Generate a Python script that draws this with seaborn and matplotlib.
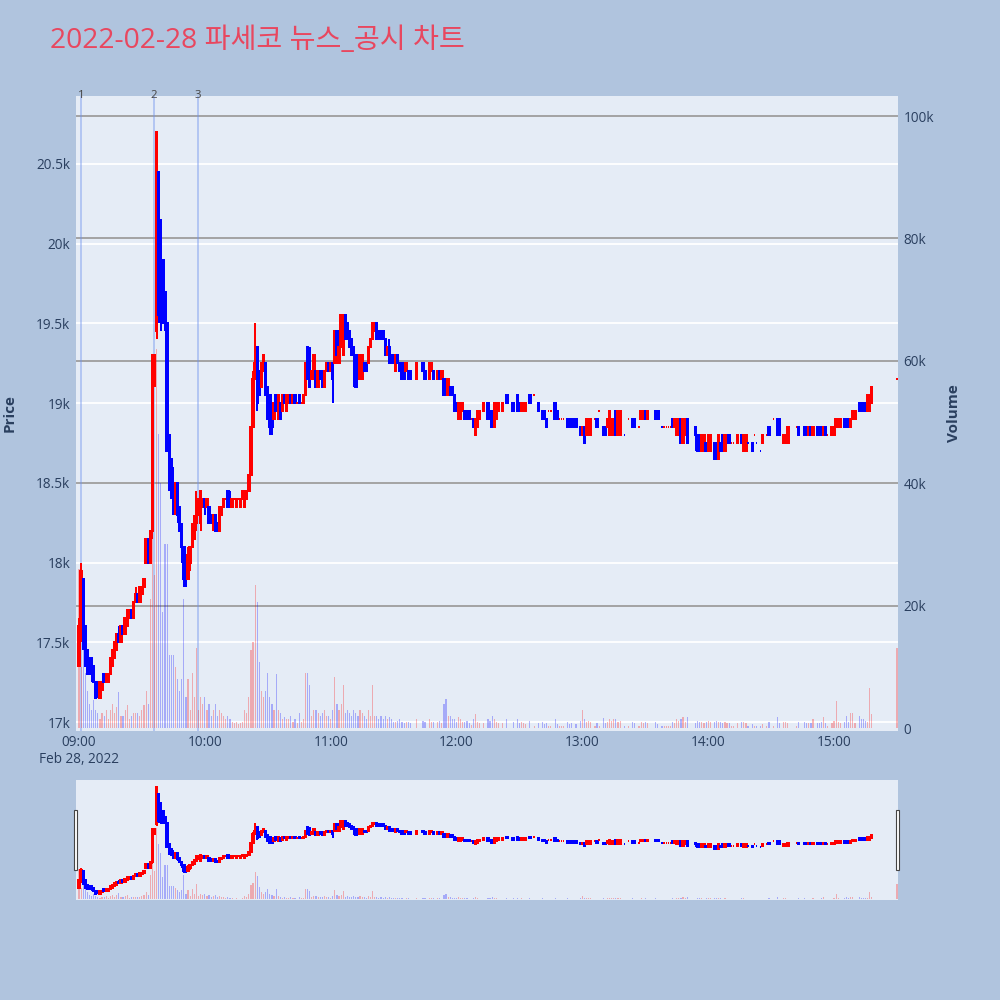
import numpy as np
import pandas as pd
import matplotlib
matplotlib.use("Agg")
import matplotlib.pyplot as plt
import matplotlib.transforms as mtransforms
from matplotlib.patches import Rectangle
import seaborn as sns

sns.set_theme(style="white")
plt.rcParams['font.family'] = ['Open Sans', 'Noto Sans CJK KR', 'DejaVu Sans']

# ---------------- data ----------------
title_text = "2022-02-28 파세코 뉴스_공시 차트"
session_start = "2022-02-28 09:00"

N = None
opens = [
    17350,17600,17900,17600,17450,17400,17400,17350,17250,17250,
    17150,17200,17300,17250,17250,17300,17350,17400,17450,17550,
    17500,17600,17550,17600,17650,17700,17650,17750,17800,17750,
    17800,17850,18000,18150,18000,18200,19150,19450,20450,20150,
    19900,19700,19500,18800,18650,18500,18350,18500,18350,18200,
    18100,18000,17900,18000,18100,18150,18250,18300,18250,18350,
    18400,18350,18350,18300,18250,18300,18250,18200,18300,18350,
    18400,18450,18400,18350,18400,18350,18400,18350,18400,18350,
    18400,18450,18550,18850,19150,19350,19200,19100,19200,19250,
    19100,19050,18900,18900,19050,18900,19000,18950,19050,18950,
    19000,19050,19000,19050,19000,19050,19000,19000,19050,19350,
    19250,19150,19150,19200,19100,19200,19200,19100,19200,19250,
    19200,19250,19250,19450,19250,19350,19300,19550,19500,19450,
    19400,19350,19300,19250,19150,19150,19250,19250,19250,19350,
    19400,19450,19500,19450,19450,19450,19400,19300,19350,19300,
    19300,19200,19300,19250,19250,19200,19200,19200,19200,N,
    N,19150,N,N,19250,19200,N,19150,19200,19200,
    N,19150,19200,19150,19150,19100,19050,19100,19100,19050,
    19000,18900,18900,18950,18950,18950,18950,18900,18900,18800,
    18850,18900,N,18950,N,19000,18950,18950,18850,18900,
    18950,N,18950,N,19050,N,N,19000,N,19050,
    19000,18950,18950,18950,N,19050,N,19050,N,19000,
    N,18950,18950,18900,18950,18950,N,19000,18950,18900,
    18900,18900,N,18900,18900,18900,N,18900,N,18850,
    18800,18850,18800,18800,18800,N,18900,18900,18950,N,
    18850,18850,18850,18800,18800,18800,18950,18800,18800,N,
    18800,N,18900,N,18900,18900,N,18850,18900,18900,
    18950,18900,N,N,N,18950,18950,N,18850,18850,
    18850,18850,18850,18900,18850,18800,18800,18900,18750,18800,
    18900,N,N,N,18850,18800,18800,18700,18700,18750,
    18700,18700,N,18750,18750,18650,18750,18800,18700,18750,
    18800,18750,18750,N,18750,N,18800,18700,18700,18750,
    N,18750,18800,18750,N,18700,18750,N,18800,18850,
    N,18900,N,18900,18900,N,18750,18750,18750,N,
    N,N,18850,18850,N,N,18850,18850,18800,18850,
    18800,N,18850,18850,18850,18800,18850,18800,N,18800,
    18800,18850,18850,18850,N,18900,18900,18900,18850,18900,
    18900,N,19000,19000,19000,19000,18950,18950,19000,N,
    N,N,N,N,N,N,N,N,N,N,
    19150,
]
closes = [
    17600,17950,17500,17350,17300,17300,17300,17250,17150,17200,
    17250,17250,17250,17300,17300,17400,17450,17500,17550,17500,
    17600,17550,17650,17700,17700,17650,17750,17800,17750,17850,
    17850,17900,18150,18000,18200,19300,19300,20700,19550,19700,
    19500,19500,18700,18550,18450,18350,18500,18300,18200,18100,
    17900,17900,18050,18100,18200,18250,18400,18400,18450,18400,
    18350,18400,18250,18250,18300,18200,18200,18350,18350,18400,
    18400,18350,18350,18400,18400,18400,18400,18400,18450,18450,
    18450,18550,18850,19150,19250,19000,19050,19250,19300,19050,
    18900,18850,18850,19000,18950,19050,18900,19050,19000,19050,
    19050,19000,19050,19000,19000,19000,19000,19050,19250,19150,
    19100,19200,19300,19100,19200,19150,19100,19200,19250,19200,
    19250,19150,19450,19300,19350,19550,19550,19400,19400,19350,
    19300,19300,19100,19150,19300,19300,19200,19200,19350,19400,
    19500,19500,19400,19400,19400,19400,19300,19350,19250,19250,
    19250,19300,19250,19200,19150,19150,19250,19150,19150,N,
    N,19250,N,N,19200,19150,N,19250,19250,19150,
    N,19200,19150,19200,19050,19050,19150,19050,19050,18950,
    18950,19000,19000,19000,18900,18900,18900,18900,18850,18900,
    18950,18950,N,19000,N,18900,18900,18850,19000,19000,
    19000,N,19000,N,19000,N,N,18950,N,18950,
    18950,19000,19000,19000,N,19000,N,19050,N,18950,
    N,18900,18900,18850,18950,18950,N,18900,18900,18900,
    18900,18900,N,18850,18850,18850,N,18850,N,18800,
    18850,18750,18900,18900,18900,N,18900,18850,18950,N,
    18800,18800,18900,18950,18900,18900,18800,18950,18950,N,
    18800,N,18900,N,18850,18850,N,18850,18950,18950,
    18900,18950,N,N,N,18900,18900,N,18850,18850,
    18850,18850,18850,18850,18900,18900,18900,18750,18900,18900,
    18750,N,N,N,18800,18700,18700,18800,18800,18700,
    18800,18800,N,18650,18650,18800,18700,18700,18800,18800,
    18750,18750,18750,N,18800,N,18750,18800,18800,18750,
    N,18700,18800,18750,N,18700,18800,N,18800,18800,
    N,18900,N,18800,18800,N,18800,18800,18850,N,
    N,N,18850,18800,N,N,18800,18800,18850,18800,
    18850,N,18800,18800,18800,18850,18800,18800,N,18850,
    18850,18900,18900,18900,N,18850,18850,18850,18900,18950,
    18950,N,18950,18950,18950,18950,19050,19050,19100,N,
    N,N,N,N,N,N,N,N,N,N,
    19150,
]
highs = [
    17650,18000,17900,17600,17450,17400,17400,17350,17250,17250,
    17250,17250,17300,17300,17300,17400,17450,17500,17550,17600,
    17600,17600,17650,17700,17700,17700,17750,17850,17800,17850,
    17850,17900,18150,18150,18200,19300,19300,20700,20450,20150,
    19900,19700,19500,18800,18650,18600,18500,18500,18350,18250,
    18100,18000,18100,18100,18250,18300,18450,18400,18450,18400,
    18400,18400,18350,18300,18300,18300,18250,18350,18350,18400,
    18400,18450,18450,18400,18400,18400,18400,18400,18450,18450,
    18450,18550,18850,19200,19500,19350,19200,19250,19300,19250,
    19100,19050,18900,19000,19050,19050,19000,19050,19050,19050,
    19050,19050,19050,19050,19000,19050,19000,19050,19250,19350,
    19350,19200,19300,19200,19200,19200,19200,19200,19250,19250,
    19250,19250,19450,19450,19350,19550,19550,19550,19500,19450,
    19400,19350,19300,19250,19300,19300,19250,19250,19350,19400,
    19500,19500,19500,19450,19450,19450,19400,19350,19400,19300,
    19300,19300,19300,19250,19250,19200,19250,19200,19200,N,
    N,19250,N,N,19250,19200,N,19250,19250,19200,
    N,19200,19200,19200,19150,19100,19150,19100,19100,19050,
    19000,19000,19000,19000,18950,18950,18950,18900,18900,18900,
    18950,18950,N,19000,N,19000,18950,18950,19000,19000,
    19000,N,19000,N,19050,N,N,19000,N,19050,
    19000,19000,19000,19000,N,19050,N,19050,N,19000,
    N,18950,18950,18900,18950,18950,N,19000,18950,18900,
    18900,18900,N,18900,18900,18900,N,18900,N,18850,
    18850,18850,18900,18900,18900,N,18900,18900,18950,N,
    18850,18850,18900,18950,18900,18900,18950,18950,18950,N,
    18800,N,18900,N,18900,18900,N,18850,18950,18950,
    18950,18950,N,N,N,18950,18950,N,18850,18850,
    18850,18850,18850,18900,18900,18900,18900,18900,18900,18900,
    18900,N,N,N,18850,18800,18800,18800,18800,18750,
    18800,18800,N,18750,18750,18800,18750,18800,18800,18800,
    18800,18750,18750,N,18800,N,18800,18800,18800,18750,
    N,18750,18800,18750,N,18700,18800,N,18800,18850,
    N,18900,N,18900,18900,N,18800,18800,18850,N,
    N,N,18850,18850,N,N,18850,18850,18850,18850,
    18850,N,18850,18850,18850,18850,18850,18800,N,18850,
    18850,18900,18900,18900,N,18900,18900,18900,18900,18950,
    18950,N,19000,19000,19000,19000,19050,19050,19100,N,
    N,N,N,N,N,N,N,N,N,N,
    19150,
]
lows = [
    17350,17500,17450,17350,17300,17300,17250,17250,17150,17150,
    17150,17200,17250,17250,17250,17300,17350,17400,17450,17500,
    17500,17550,17550,17600,17650,17650,17650,17750,17750,17750,
    17800,17850,18000,18000,18000,18150,19100,19400,19500,19450,
    19500,19450,18700,18450,18400,18300,18300,18250,18200,18000,
    17850,17850,17900,17950,18100,18150,18200,18300,18200,18350,
    18300,18350,18250,18250,18200,18200,18200,18200,18300,18350,
    18400,18350,18350,18350,18400,18350,18400,18350,18400,18350,
    18400,18450,18550,18850,19150,18950,19050,19100,19200,19050,
    18900,18800,18800,18900,18950,18900,18900,18950,19000,18950,
    19000,19000,19000,19000,19000,19000,19000,19000,19050,19150,
    19100,19150,19150,19100,19100,19150,19100,19100,19200,19200,
    19200,19000,19250,19300,19250,19350,19300,19400,19400,19350,
    19300,19100,19100,19150,19150,19150,19200,19200,19250,19350,
    19400,19450,19400,19400,19400,19400,19300,19300,19250,19250,
    19250,19200,19250,19200,19150,19150,19200,19150,19150,N,
    N,19150,N,N,19200,19150,N,19150,19200,19150,
    N,19150,19150,19150,19050,19050,19050,19050,19050,18950,
    18950,18900,18900,18950,18900,18900,18900,18900,18850,18800,
    18850,18900,N,18950,N,18900,18900,18850,18850,18900,
    18950,N,18950,N,19000,N,N,18950,N,18950,
    18950,18950,18950,18950,N,19000,N,19050,N,18950,
    N,18900,18900,18850,18950,18950,N,18900,18900,18900,
    18900,18900,N,18850,18850,18850,N,18850,N,18800,
    18800,18750,18800,18800,18800,N,18900,18850,18950,N,
    18800,18800,18850,18800,18800,18800,18800,18800,18800,N,
    18800,N,18900,N,18850,18850,N,18850,18900,18900,
    18900,18900,N,N,N,18900,18900,N,18850,18850,
    18850,18850,18850,18850,18850,18800,18800,18750,18750,18800,
    18750,N,N,N,18700,18700,18700,18700,18700,18700,
    18700,18700,N,18650,18650,18650,18700,18700,18700,18750,
    18750,18750,18750,N,18750,N,18750,18700,18700,18750,
    N,18700,18800,18750,N,18700,18750,N,18800,18800,
    N,18900,N,18800,18800,N,18750,18750,18750,N,
    N,N,18850,18800,N,N,18800,18800,18800,18800,
    18800,N,18800,18800,18800,18800,18800,18800,N,18800,
    18800,18850,18850,18850,N,18850,18850,18850,18850,18900,
    18900,N,18950,18950,18950,18950,18950,18950,19000,N,
    N,N,N,N,N,N,N,N,N,N,
    19150,
]
volumes = [
    26000,10000,14000,9000,6000,4000,3000,4500,3000,2500,
    1500,2500,2000,3000,1500,3000,4000,2500,3500,5900,
    2000,2000,3000,3800,1500,2000,2500,2400,2400,2000,
    3000,3800,6000,4000,21000,33000,25000,62000,48000,40000,
    19000,30000,30000,12000,12000,12000,10000,8000,6000,8000,
    21000,5000,8000,3000,9000,5000,13000,3000,5000,4000,
    5000,3000,4000,2000,3000,4000,2000,3000,2500,2000,
    1500,2000,1500,1000,800,900,700,800,1000,3000,
    2500,5000,12800,14000,23400,20600,10800,6000,5000,6000,
    9000,5000,4000,3000,8800,3000,2500,1500,1800,1500,
    1500,2000,1000,1500,800,2500,1000,1500,9000,9000,
    7000,2000,3000,3000,2500,2000,2500,3000,2000,2000,
    1500,3000,8300,4000,3000,4000,7000,2500,3000,2500,
    2000,3000,2500,2000,3000,2500,2000,1500,3000,2000,
    7000,2000,2000,1500,2000,1500,2000,1500,1800,1500,
    1000,1000,1200,1500,1000,800,1000,1000,800,N,
    N,1500,N,N,1200,1000,N,1500,1000,1000,
    N,1000,1200,800,4000,4700,2000,2000,1500,1500,
    1000,1800,1500,1000,1000,1200,800,500,1500,2300,
    1000,800,N,800,N,1500,1200,2000,1500,1000,
    800,N,800,N,1500,N,N,1000,N,1500,
    800,1000,800,600,N,1200,N,300,N,800,
    N,1000,600,800,300,300,N,1500,600,300,
    300,300,N,1000,600,800,N,600,N,1200,
    2900,1500,1000,1200,1000,N,300,800,300,N,
    1600,800,1000,1500,1200,1500,1500,1000,1200,N,
    300,N,300,N,1000,800,N,300,1000,800,
    1000,800,N,N,N,1000,600,N,300,300,
    300,300,300,1000,800,1500,1200,1500,1800,1000,
    1800,N,N,N,800,1200,1000,1000,800,1000,
    1200,1000,N,1000,1200,1000,1000,800,1000,800,
    800,300,300,N,800,N,1000,1000,800,300,
    N,600,300,300,N,300,600,N,300,1000,
    N,300,N,1800,800,N,1000,1000,800,N,
    N,N,300,1000,N,N,1000,800,800,800,
    1500,N,800,800,1000,1800,800,300,N,800,
    1200,4400,1000,800,N,1000,2000,1000,2500,2500,
    800,N,2000,1500,1500,1200,1000,6500,2300,N,
    N,N,N,N,N,N,N,N,N,N,
    13000,
]

event_times = ["2022-02-28 09:01:00", "2022-02-28 09:35:40", "2022-02-28 09:56:40"]
event_labels = ["1", "2", "3"]

price_ticks = [17000, 17500, 18000, 18500, 19000, 19500, 20000, 20500]
price_tick_labels = ["17k", "17.5k", "18k", "18.5k", "19k", "19.5k", "20k", "20.5k"]
vol_ticks = [0, 20000, 40000, 60000, 80000, 100000]
vol_tick_labels = ["0", "20k", "40k", "60k", "80k", "100k"]
time_ticks = ["09:00", "10:00", "11:00", "12:00", "13:00", "14:00", "15:00"]

# ---------------- frame ----------------
t0 = pd.Timestamp(session_start)
df = pd.DataFrame({"open": opens, "close": closes, "high": highs,
                   "low": lows, "volume": volumes}, dtype=float)
df["minute"] = np.arange(len(df))
df = df.dropna().reset_index(drop=True)
prev_close = df["close"].shift(1).fillna(df["open"])
df["up"] = (df["close"] > df["open"]) | ((df["close"] == df["open"]) & (df["close"] >= prev_close))

RED = "#ff0000"
BLUE = "#0000ff"
df["color"] = np.where(df["up"], RED, BLUE)

def to_min(ts):
    return (pd.Timestamp(ts) - t0).total_seconds() / 60.0

ev_x = [to_min(t) for t in event_times]
tick_x = [to_min("2022-02-28 " + t) for t in time_ticks]
tick_lbl = [time_ticks[0] + "\nFeb 28, 2022"] + time_ticks[1:]

XLIM = (-1.43, 390.5)
PLIM = (16944, 20926)
VLIM = (-490, 103268)

BG_FIG = "#b0c4de"
BG_PLOT = "#e5ecf6"
TXT = "#2a3f5f"
TICK_FS = 9.8

fig = plt.figure(figsize=(10, 10), dpi=100, facecolor=BG_FIG)

def draw_panel(rect, main=True):
    axv = fig.add_axes(rect, zorder=1)
    axp = fig.add_axes(rect, zorder=2, sharex=axv)
    axv.set_facecolor(BG_PLOT)
    axp.set_facecolor("none")
    for a in (axv, axp):
        for s in a.spines.values():
            s.set_visible(False)
        a.set_xlim(*XLIM)
        a.tick_params(length=0)
    axp.set_ylim(*PLIM)
    axv.set_ylim(*VLIM)
    if main:
        tr = mtransforms.blended_transform_factory(axv.transAxes, axp.transData)
        for p in price_ticks:
            axv.plot([0, 1], [p, p], transform=tr, color="white", lw=1.3, zorder=0.5)
        for v in vol_ticks[1:]:
            axv.axhline(v, color="#a3a3a3", lw=1.4, zorder=0.6)
        for x in ev_x:
            axv.axvline(x, color="#6f93ee", alpha=0.55, lw=1.1, zorder=0.7)
    sns.despine(ax=axv, left=True, bottom=True)
    axv.bar(df["minute"], df["volume"], width=0.55, color=df["color"],
            alpha=0.28, linewidth=0, zorder=1)
    body_lo = np.minimum(df["open"], df["close"])
    body_h = (df["close"] - df["open"]).abs()
    axp.vlines(df["minute"], df["low"], df["high"], colors=df["color"],
               linewidth=1.44, zorder=2)
    axp.bar(df["minute"], body_h, bottom=body_lo, width=0.65, color=df["color"],
            edgecolor=df["color"], linewidth=1.44, zorder=3)
    return axp, axv

# main panel
axp, axv = draw_panel([0.076, 0.269, 0.822, 0.635], main=True)
axp.set_yticks(price_ticks)
axp.set_yticklabels(price_tick_labels)
axp.yaxis.tick_left()
axp.tick_params(axis="y", colors=TXT, labelsize=TICK_FS, pad=4)
axv.yaxis.tick_right()
axv.set_yticks(vol_ticks)
axv.set_yticklabels(vol_tick_labels)
axv.tick_params(axis="y", colors=TXT, labelsize=TICK_FS, pad=4)
axp.set_xticks(tick_x)
axp.set_xticklabels(tick_lbl, linespacing=1.2)
axp.tick_params(axis="x", colors=TXT, labelsize=TICK_FS, pad=3)
axv.tick_params(axis="x", labelbottom=False)
axp.grid(False)
axv.grid(False)

for x, lab in zip(ev_x, event_labels):
    axp.text(x, 1.0, lab, transform=mtransforms.blended_transform_factory(axp.transData, axp.transAxes),
             ha="center", va="center", fontsize=8.2, color="#444444", zorder=5, clip_on=False)

# range slider
sp, sv = draw_panel([0.076, 0.10, 0.822, 0.12], main=False)
for a in (sp, sv):
    a.set_xticks([])
    a.set_yticks([])
    a.grid(False)

for hx in (0.0735, 0.8955):
    fig.patches.append(Rectangle((hx, 0.130), 0.0035, 0.06, transform=fig.transFigure,
                                 facecolor="white", edgecolor="#444444", lw=0.8, zorder=10))

# texts
fig.text(0.05, 0.959, title_text, fontsize=20.3, color="#e8475f", ha="left", va="center")
fig.text(0.010, 0.587, "Price", rotation=90, fontsize=11, fontweight="bold",
         color=TXT, ha="center", va="center")
fig.text(0.954, 0.587, "Volume", rotation=90, fontsize=11, fontweight="bold",
         color=TXT, ha="center", va="center")

fig.savefig("out.png", dpi=100, facecolor=BG_FIG)
